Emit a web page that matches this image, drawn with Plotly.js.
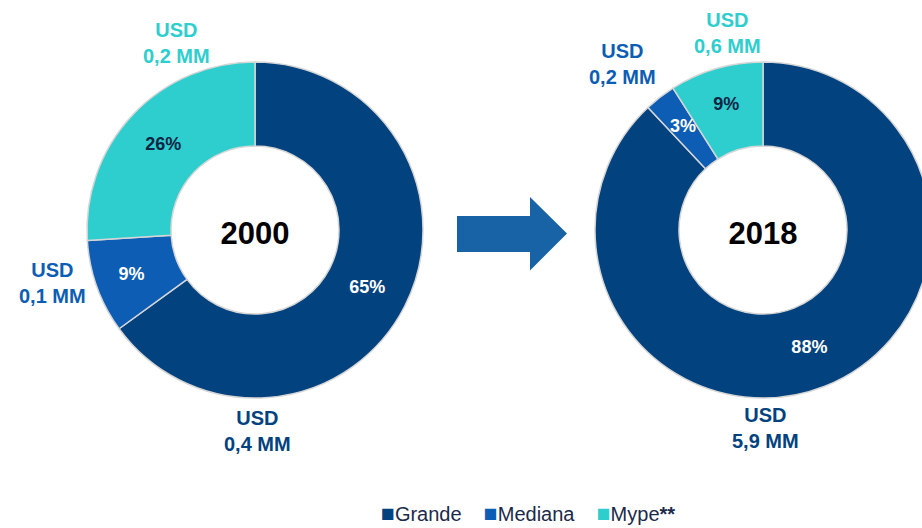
<!DOCTYPE html>
<html>
<head>
<meta charset="utf-8">
<script src="https://cdn.plot.ly/plotly-3.0.1.min.js"></script>
<style>
  html, body { margin: 0; padding: 0; overflow: hidden; background: #fff; }
  #chart { width: 940px; height: 528px; }
</style>
</head>
<body>
<div id="chart"></div>
<script>
// ---- data ----
const categories = ['Grande', 'Mediana', 'Mype'];
const legendLabels = ['Grande', 'Mediana', 'Mype<b>**</b>'];
const colors = ['#02427e', '#0d5db5', '#2ecece'];
const pctLabelColors = ['#ffffff', '#ffffff', '#0b2545'];
const years = ['2000', '2018'];
const share2000 = [65, 9, 26];
const share2018 = [88, 3, 9];
const usd2000 = ['0,4', '0,1', '0,2'];
const usd2018 = ['5,9', '0,2', '0,6'];

// ---- layout helpers ----
const W = 940, H = 528;
const px = v => v / W;
const py = v => 1 - v / H;
const FONT = '"Liberation Sans", Arial, sans-serif';
const R = 168;           // outer radius in px
const SMALL = 5;         // slices below this share get an overlay label

function donut(values, year, cx) {
  const pos = values.map(v => v < SMALL ? 'none' : 'inside');
  return {
    type: 'pie',
    labels: categories,
    values: values,
    sort: false,
    direction: 'clockwise',
    rotation: 0,
    hole: 0.5,
    domain: { x: [px(cx - R), px(cx + R)], y: [py(398), py(62)] },
    marker: { colors: colors, line: { color: '#d6d6d6', width: 1.5 } },
    texttemplate: '%{value}%',
    textposition: pos,
    insidetextorientation: 'horizontal',
    textfont: { family: FONT, size: 18, color: pctLabelColors, weight: 'bold' },
    title: { text: '<b>' + year + '</b>', position: 'middle center',
             font: { family: FONT, size: 31, color: '#000' } },
    hoverinfo: 'skip',
    showlegend: false
  };
}

const centers = [[255, 230], [763, 230]];
const traces = [
  donut(share2000, years[0], centers[0][0]),
  donut(share2018, years[1], centers[1][0])
];

function usdLabel(val, idx, x, y) {
  return {
    xref: 'paper', yref: 'paper', x: px(x), y: py(y),
    xanchor: 'center', yanchor: 'middle', showarrow: false,
    text: '<b>USD<br>' + val + ' MM</b>',
    font: { family: FONT, size: 20, color: colors[idx] },
    align: 'center'
  };
}

const annotations = [
  usdLabel(usd2000[0], 0, 257, 431),
  usdLabel(usd2000[1], 1, 52, 283),
  usdLabel(usd2000[2], 2, 176, 43),
  usdLabel(usd2018[0], 0, 765, 428),
  usdLabel(usd2018[1], 1, 622, 64),
  usdLabel(usd2018[2], 2, 727, 33)
];

// overlay labels for thin slices (placed at the slice mid-angle, derived from data)
[share2000, share2018].forEach((vals, k) => {
  const total = vals.reduce((a, b) => a + b, 0);
  let cum = 0;
  vals.forEach((v, i) => {
    const mid = (cum + v / 2) / total * 2 * Math.PI;
    cum += v;
    if (v >= SMALL) return;
    const rr = 0.78 * R;
    const x = centers[k][0] + rr * Math.sin(mid);
    const y = centers[k][1] - rr * Math.cos(mid);
    annotations.push({
      xref: 'paper', yref: 'paper', x: px(x), y: py(y),
      xanchor: 'center', yanchor: 'middle', showarrow: false,
      text: '<b>' + v + '%</b>',
      font: { family: FONT, size: 18, color: pctLabelColors[i] }
    });
  });
});

// legend built from the category arrays
const gap = '\u00a0\u00a0\u00a0\u00a0';
annotations.push({
  xref: 'paper', yref: 'paper', x: px(528), y: 0,
  xanchor: 'center', yanchor: 'bottom', showarrow: false,
  text: categories.map((c, i) =>
    '<span style="color:' + colors[i] + ';font-size:23px">■</span>' + legendLabels[i]).join(gap),
  font: { family: FONT, size: 20, color: '#1b2a4a' }
});

// arrow between the two donuts
const arrowPts = [[457,216],[530,216],[530,197],[567,233.5],[530,270.5],[530,252],[457,252]];
const arrowPath = 'M' + arrowPts.map(p => px(p[0]).toFixed(5) + ',' + py(p[1]).toFixed(5)).join(' L') + ' Z';

const layout = {
  width: W, height: H,
  margin: { l: 0, r: 0, t: 0, b: 0 },
  paper_bgcolor: '#fff',
  showlegend: false,
  font: { family: FONT },
  annotations: annotations,
  shapes: [{
    type: 'path', xref: 'paper', yref: 'paper', path: arrowPath,
    fillcolor: '#1763a5', line: { width: 0 }
  }]
};

Plotly.newPlot('chart', traces, layout, { staticPlot: true, displayModeBar: false });
</script>
</body>
</html>
